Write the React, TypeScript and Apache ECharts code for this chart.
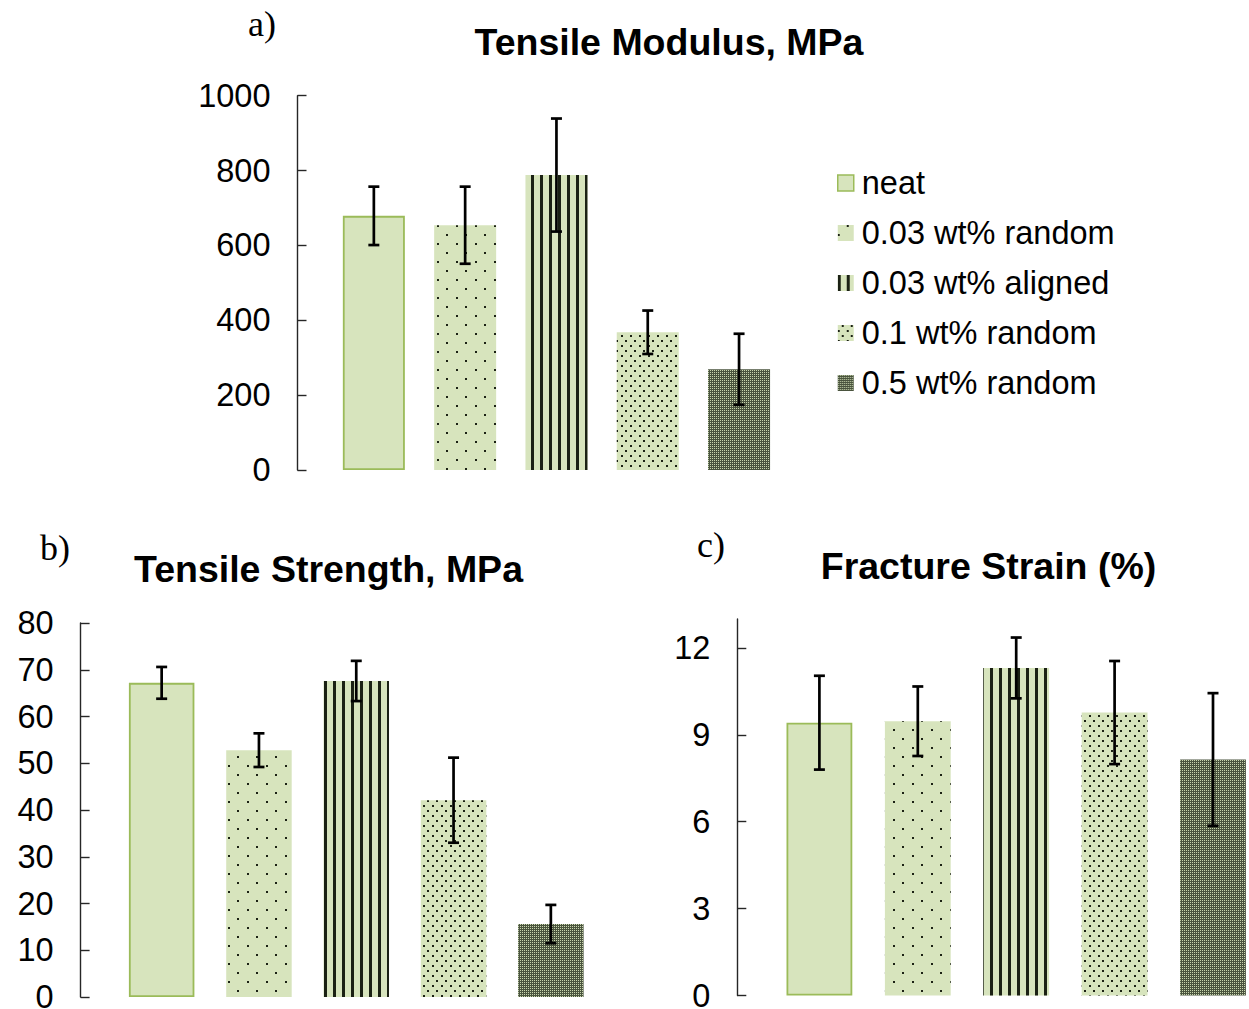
import React, { useEffect, useRef } from "react";
import * as echarts from "echarts";

// Sample groups (one bar series each)
const seriesNames = [
  "neat",
  "0.03 wt% random",
  "0.03 wt% aligned",
  "0.1 wt% random",
  "0.5 wt% random",
];

// a) Tensile modulus, MPa
const modulusValues = [679, 654, 788, 368, 269];
const modulusErrors = [78, 103, 151, 58, 95];
const modulusTicks = [0, 200, 400, 600, 800, 1000];

// b) Tensile strength, MPa
const strengthValues = [67.2, 52.8, 67.6, 42.1, 15.6];
const strengthErrors = [3.4, 3.6, 4.3, 9.1, 4.1];
const strengthTicks = [0, 10, 20, 30, 40, 50, 60, 70, 80];

// c) Fracture strain, %
const strainValues = [9.42, 9.47, 11.31, 9.77, 8.15];
const strainErrors = [1.62, 1.2, 1.05, 1.78, 2.29];
const strainTicks = [0, 3, 6, 9, 12];

const SANS = "'Liberation Sans', Arial, sans-serif";
const SERIF = "'Liberation Serif', 'Times New Roman', serif";
const FILL = "#d7e4bd";
const EDGE = "#9bbb59";
const INK = "#1b2114";
const AXIS = "#262626";

const barStyles: any[] = [
  { color: FILL, borderColor: EDGE, borderWidth: 1.8 },
  {
    color: FILL,
    decal: {
      symbol: "rect",
      symbolSize: 1,
      color: INK,
      dashArrayX: [
        [2, 17],
        [0, 9, 2, 8],
      ],
      dashArrayY: [2, 7],
    },
  },
  {
    color: FILL,
    decal: {
      symbol: "rect",
      symbolSize: 1,
      color: INK,
      dashArrayX: [3, 6],
      dashArrayY: [10, 0],
    },
  },
  {
    color: FILL,
    decal: {
      symbol: "rect",
      symbolSize: 1,
      color: INK,
      dashArrayX: [
        [2, 7],
        [0, 4, 2, 3],
      ],
      dashArrayY: [2, 3],
    },
  },
  {
    color: "#4a543e",
    decal: {
      symbol: "rect",
      symbolSize: 1,
      color: "#c9d6ae",
      dashArrayX: [1, 1],
      dashArrayY: [1, 1],
    },
  },
];

type Panel = {
  values: number[];
  errors: number[];
  ticks: number[];
  max: number;
  grid: { left: number; top: number; width: number; height: number };
  axisOffset: number;
  barWidth: number;
};

const panels: Panel[] = [
  {
    values: modulusValues,
    errors: modulusErrors,
    ticks: modulusTicks,
    max: 1000,
    grid: { left: 328.2, top: 95.7, width: 456.5, height: 374.3 },
    axisOffset: 30.7,
    barWidth: 62,
  },
  {
    values: strengthValues,
    errors: strengthErrors,
    ticks: strengthTicks,
    max: 80,
    grid: { left: 113, top: 623, width: 486.5, height: 374 },
    axisOffset: 32.4,
    barWidth: 65.5,
  },
  {
    values: strainValues,
    errors: strainErrors,
    ticks: strainTicks,
    max: 13,
    grid: { left: 770.2, top: 619, width: 492, height: 376.5 },
    axisOffset: 32.9,
    barWidth: 65.8,
  },
];

function errorBarRenderer(params: any, api: any) {
  const x = api.value(0);
  const y = api.value(1);
  const e = api.value(2);
  const top = api.coord([x, y + e]);
  const bot = api.coord([x, y - e]);
  const half = 5.5;
  const style = { stroke: "#000", lineWidth: 2.7 };
  return {
    type: "group",
    children: [
      { type: "line", shape: { x1: top[0], y1: top[1], x2: bot[0], y2: bot[1] }, style },
      { type: "line", shape: { x1: top[0] - half, y1: top[1], x2: top[0] + half, y2: top[1] }, style },
      { type: "line", shape: { x1: bot[0] - half, y1: bot[1], x2: bot[0] + half, y2: bot[1] }, style },
    ],
  };
}

function buildOption() {
  const grids = panels.map((p) => ({ ...p.grid, containLabel: false, outerBoundsMode: "none" }));
  const xAxes = panels.map((_, k) => ({
    type: "category",
    gridIndex: k,
    data: seriesNames,
    show: false,
  }));
  const yAxes = panels.map((p, k) => ({
    type: "value",
    gridIndex: k,
    min: 0,
    max: p.max,
    interval: p.ticks[1] - p.ticks[0],
    offset: p.axisOffset,
    splitLine: { show: false },
    axisLine: { show: true, lineStyle: { color: AXIS, width: 1.4 } },
    axisTick: {
      show: true,
      inside: true,
      length: 9,
      lineStyle: { color: AXIS, width: 1.4 },
      customValues: p.ticks,
    },
    axisLabel: {
      fontFamily: SANS,
      fontSize: 32.5,
      lineHeight: 20,
      color: "#000",
      margin: 27,
      customValues: p.ticks,
      formatter: (v: number) => String(v),
    },
  }));

  const series: any[] = [];
  panels.forEach((p, k) => {
    seriesNames.forEach((name, i) => {
      series.push({
        type: "bar",
        name,
        xAxisIndex: k,
        yAxisIndex: k,
        barWidth: p.barWidth,
        barGap: "-100%",
        silent: true,
        itemStyle: barStyles[i],
        emphasis: { disabled: true },
        data: p.values.map((v, j) => (j === i ? v : "-")),
      });
    });
    series.push({
      type: "custom",
      name: "error-" + k,
      xAxisIndex: k,
      yAxisIndex: k,
      silent: true,
      z: 5,
      encode: { x: 0, y: 1 },
      renderItem: errorBarRenderer,
      data: p.values.map((v, j) => [j, v, p.errors[j]]),
    });
  });

  const titleStyle = { fontFamily: SANS, fontSize: 37.5, fontWeight: "bold", fill: "#000" };
  const letterStyle = { fontFamily: SERIF, fontSize: 36, fill: "#000" };

  return {
    animation: false,
    backgroundColor: "#fff",
    grid: grids,
    xAxis: xAxes,
    yAxis: yAxes,
    legend: {
      orient: "vertical",
      left: 837,
      top: 166,
      padding: 0,
      icon: "rect",
      itemWidth: 16,
      itemHeight: 16,
      itemGap: 16,
      selectedMode: false,
      textStyle: {
        fontFamily: SANS,
        fontSize: 32.5,
        color: "#000",
        lineHeight: 34,
        padding: [0, 0, 0, 3],
      },
      data: seriesNames.map((name, i) =>
        i === 0
          ? { name, itemStyle: { borderColor: EDGE, borderWidth: 1.5 } }
          : { name }
      ),
    },
    graphic: [
      { type: "text", x: 248, y: 24, style: { ...letterStyle, text: "a)", textVerticalAlign: "middle" } },
      { type: "text", x: 40, y: 548, style: { ...letterStyle, text: "b)", textVerticalAlign: "middle" } },
      { type: "text", x: 697, y: 545, style: { ...letterStyle, text: "c)", textVerticalAlign: "middle" } },
      {
        type: "text",
        x: 669,
        y: 42,
        style: { ...titleStyle, text: "Tensile Modulus, MPa", textAlign: "center", textVerticalAlign: "middle" },
      },
      {
        type: "text",
        x: 328.5,
        y: 569,
        style: { ...titleStyle, text: "Tensile Strength, MPa", textAlign: "center", textVerticalAlign: "middle" },
      },
      {
        type: "text",
        x: 988.5,
        y: 566,
        style: { ...titleStyle, text: "Fracture Strain (%)", textAlign: "center", textVerticalAlign: "middle" },
      },
    ],
    series,
  };
}

export default function App() {
  const ref = useRef<HTMLDivElement>(null);
  useEffect(() => {
    if (!ref.current) return;
    const chart = echarts.init(ref.current, undefined, { renderer: "svg" });
    chart.setOption(buildOption() as any);
    return () => chart.dispose();
  }, []);
  return (
    <div
      ref={ref}
      style={{ position: "absolute", left: 0, top: 0, width: 1249, height: 1009, overflow: "hidden" }}
    />
  );
}
